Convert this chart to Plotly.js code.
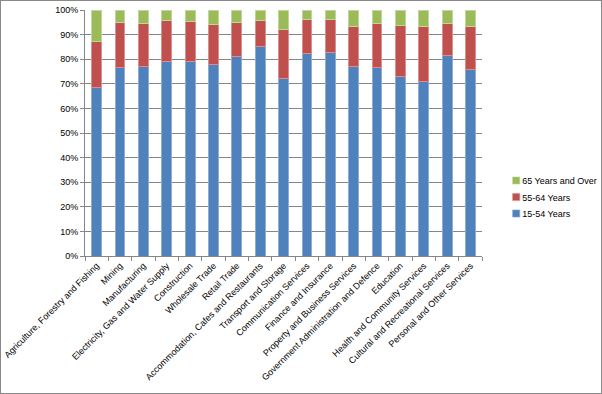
<!DOCTYPE html>
<html>
<head>
<meta charset="utf-8">
<script src="https://cdn.plot.ly/plotly-3.0.1.min.js"></script>
<style>
html,body{margin:0;padding:0;background:#fff;}
#chart{width:600px;height:392px;border:1px solid #898989;}
</style>
</head>
<body>
<div id="chart"></div>
<script>
const categories = [
  "Agriculture, Forestry and Fishing","Mining","Manufacturing","Electricity, Gas and Water Supply",
  "Construction","Wholesale Trade","Retail Trade","Accommodation, Cafes and Restaurants",
  "Transport and Storage","Communication Services","Finance and Insurance","Property and Business Services",
  "Government Administration and Defence","Education","Health and Community Services",
  "Cultural and Recreational Services","Personal and Other Services"
];
const age15to54 = [68.4,76.7,77.0,79.1,79.1,77.8,81.2,85.0,72.0,82.4,82.8,77.0,76.7,72.8,71.0,81.7,76.0];
const age55to64 = [18.7,18.4,17.7,16.5,16.1,16.5,13.9,10.9,20.0,13.7,13.3,16.4,17.7,20.8,22.4,12.7,17.4];
const age65plus = [12.9,4.9,5.3,4.4,4.8,5.7,4.9,4.1,8.0,3.9,3.9,6.6,5.6,6.4,6.6,5.6,6.6];
const seriesNames = ["15-54 Years","55-64 Years","65 Years and Over"];
const seriesColors = ["#4F81BD","#C0504D","#9BBB59"];
const seriesLines = ["#8EACD6","#D88F8D","#C1D69A"];
const yTickVals = [0,10,20,30,40,50,60,70,80,90,100];
const yTickText = yTickVals.map(v => v + "%");

const allSeries = [age15to54, age55to64, age65plus];
const traces = allSeries.map((vals, i) => ({
  type: "bar",
  name: seriesNames[i],
  x: categories,
  y: vals,
  marker: {color: seriesColors[i], line: {color: seriesLines[i], width: 1}},
  hoverinfo: "x+y+name"
}));

const layout = {
  width: 600, height: 392,
  margin: {l: 84, r: 103, t: 9, b: 137, pad: 0},
  barmode: "stack",
  bargap: 0.58,
  paper_bgcolor: "#ffffff",
  plot_bgcolor: "#ffffff",
  font: {family: "Liberation Sans, Arial, sans-serif", size: 9, color: "#000"},
  xaxis: {
    type: "category",
    tickangle: -45,
    ticks: "outside",
    tickson: "boundaries",
    ticklen: 4,
    tickcolor: "#868686",
    showline: true,
    linecolor: "#868686",
    linewidth: 1,
    showgrid: false,
    tickfont: {size: 9},
    automargin: false
  },
  yaxis: {
    range: [0, 100],
    tickvals: yTickVals,
    ticktext: yTickText,
    ticks: "outside",
    ticklen: 4,
    tickcolor: "#868686",
    showline: true,
    linecolor: "#868686",
    gridcolor: "#868686",
    gridwidth: 1,
    zeroline: false,
    tickfont: {size: 9},
    automargin: false
  },
  legend: {
    xref: "container", yref: "container",
    x: 0.802, y: 0.5, xanchor: "left", yanchor: "middle",
    font: {size: 9},
    traceorder: "reversed",
    itemwidth: 30,
    tracegroupgap: 0,
    bgcolor: "rgba(0,0,0,0)"
  },
  showlegend: true
};

Plotly.newPlot("chart", traces, layout, {displayModeBar: false, staticPlot: true}).then(gd => {
  // compact the legend symbols (Excel-style small squares next to text)
  gd.querySelectorAll(".legend .legendpoints path").forEach(p => {
    const t = p.getAttribute("transform") || "";
    p.setAttribute("transform", t + " translate(14,0) scale(0.6)");
  });
  // tighten legend row spacing
  const rows = Array.from(gd.querySelectorAll(".legend .traces"));
  const ys = rows.map(g => {
    const m = /translate\(\s*([-\d.]+)[ ,]+([-\d.]+)\s*\)/.exec(g.getAttribute("transform") || "");
    return m ? [parseFloat(m[1]), parseFloat(m[2])] : [0, 0];
  });
  if (rows.length === 3) {
    const mid = ys[1][1];
    rows.forEach((g, i) => {
      g.setAttribute("transform", "translate(" + ys[i][0] + "," + (mid + (i - 1) * 16.5) + ")");
    });
  }
});
</script>
</body>
</html>
